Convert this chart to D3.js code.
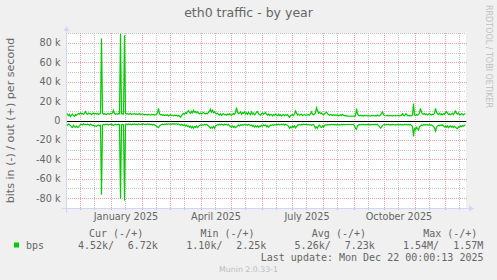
<!DOCTYPE html>
<html>
<head>
<meta charset="utf-8">
<script src="https://cdn.jsdelivr.net/npm/d3@7"></script>
<style>
  body { margin: 0; background: #f0f0f0; }
  svg { display: block; }
  text { font-family: "DejaVu Sans", sans-serif; fill: #666666; }
  text.mono { font-family: "DejaVu Sans Mono", monospace; }
</style>
</head>
<body>
<div id="chart"></div>
<script>
// 400 days, one value per day, ending at the last update
const startDay = new Date(Date.UTC(2024, 10, 17));
const endDay = new Date(Date.UTC(2025, 11, 22));

// out (+) daily average, kbit/s
const outValues = [
  5.7, 6.8, 4.9, 6.2, 4.0, 5.5, 6.6, 5.1, 4.3, 6.0,
  5.4, 6.3, 7.2, 6.5, 7.8, 6.9, 7.1, 6.2, 7.5, 9.0,
  7.0, 6.4, 7.6, 6.8, 7.3, 6.1, 7.0, 7.7, 6.6, 7.2,
  6.5, 7.4, 6.3, 6.9, 7.1, 84.5, 7.8, 6.4, 7.0, 6.6,
  6.2, 7.0, 6.8, 6.5, 7.3, 6.9, 8.0, 10.6, 7.1, 6.4,
  6.9, 6.5, 7.2, 6.8, 89.5, 6.7, 7.0, 6.6, 88.0, 7.2,
  6.6, 7.1, 6.3, 6.8, 7.4, 6.2, 6.9, 6.5, 7.0, 6.4,
  6.8, 6.1, 6.6, 7.2, 6.0, 6.5, 6.9, 6.3, 5.8, 6.4,
  6.1, 5.7, 6.5, 6.0, 5.5, 6.2, 5.9, 6.3, 5.6, 6.0,
  6.4, 8.2, 12.6, 7.0, 5.8, 6.1, 5.4, 5.9, 5.2, 5.7,
  5.3, 5.9, 4.8, 5.5, 6.0, 5.1, 5.6, 4.9, 5.4, 5.0,
  5.5, 4.7, 5.2, 4.4, 3.3, 5.0, 6.2, 7.4, 6.5, 8.1,
  7.2, 9.0, 10.2, 8.3, 7.5, 9.4, 8.0, 10.5, 8.6, 9.2,
  7.8, 8.8, 7.4, 7.0, 7.8, 6.7, 7.5, 8.4, 7.2, 6.9,
  7.6, 7.0, 8.3, 9.5, 11.5, 8.6, 10.4, 8.0, 9.1, 7.4,
  6.8, 7.4, 6.2, 5.6, 6.9, 5.3, 6.4, 7.0, 5.8, 6.3,
  5.5, 6.6, 5.9, 7.1, 6.0, 5.2, 6.5, 7.3, 6.4, 8.0,
  13.4, 8.8, 6.9, 7.8, 9.0, 6.6, 8.2, 7.4, 9.1, 6.8,
  7.9, 6.4, 8.5, 7.2, 6.0, 8.8, 6.7, 7.6, 5.9, 6.8,
  8.6, 9.2, 7.0, 6.2, 5.5, 6.9, 7.8, 6.3, 7.4, 8.3,
  6.5, 5.6, 6.8, 5.2, 6.3, 5.9, 4.9, 6.1, 5.4, 6.6,
  5.8, 5.0, 6.4, 5.3, 6.0, 4.8, 5.7, 6.3, 5.1, 5.9,
  5.4, 6.2, 4.7, 3.3, 5.0, 5.6, 6.1, 5.2, 7.0, 9.8,
  7.6, 5.8, 6.4, 5.3, 5.9, 6.5, 5.1, 5.7, 6.2, 5.5,
  5.2, 5.8, 6.0, 5.4, 7.2, 9.0, 6.4, 5.9, 6.6, 7.8,
  13.2, 10.4, 7.6, 8.5, 7.0, 7.8, 6.4, 5.9, 6.8, 7.9,
  8.8, 7.2, 6.1, 5.5, 6.3, 5.8, 5.2, 6.0, 5.4, 5.7,
  5.1, 5.6, 4.8, 5.3, 5.9, 5.0, 6.4, 5.4, 4.9, 5.2,
  4.6, 4.5, 4.5, 4.4, 4.6, 4.5, 4.4, 4.5, 4.6, 4.7,
  12.2, 6.8, 5.2, 4.9, 5.4, 4.8, 5.1, 4.6, 5.3, 4.9,
  5.0, 4.7, 5.2, 4.8, 4.6, 5.3, 4.9, 5.1, 4.7, 5.0,
  4.8, 5.4, 5.0, 4.7, 5.6, 7.3, 8.9, 6.0, 5.1, 4.9,
  5.0, 5.2, 4.8, 5.0, 4.9, 5.1, 4.8, 5.0, 4.9, 5.2,
  4.9, 5.0, 5.3, 4.8, 5.1, 5.5, 7.0, 5.2, 4.9, 6.8,
  6.6, 5.0, 4.8, 5.3, 5.0, 4.7, 5.8, 17.6, 5.6, 5.1,
  6.2, 5.4, 6.0, 8.0, 12.4, 8.5, 7.0, 6.4, 7.2, 6.0,
  6.8, 5.9, 6.5, 7.3, 6.1, 5.7, 6.6, 6.2, 7.4, 12.6,
  8.6, 7.0, 6.3, 7.5, 6.1, 6.9, 5.8, 7.2, 6.4, 8.1,
  9.2, 7.6, 6.3, 7.0, 5.9, 6.8, 7.4, 6.0, 8.2, 9.8,
  7.5, 6.6, 7.8, 6.2, 5.9, 7.1, 6.4, 5.8, 6.9, 6.7
];

// in (-) daily average, kbit/s (drawn below zero)
const inValues = [
  4.0, 4.8, 3.6, 4.4, 5.2, 6.8, 7.2, 5.0, 6.5, 7.0,
  5.6, 6.9, 7.1, 5.2, 4.3, 3.8, 4.6, 3.5, 4.2, 3.9,
  4.5, 3.7, 4.1, 5.0, 3.6, 4.4, 5.3, 4.8, 6.0, 5.5,
  6.2, 5.1, 4.6, 5.4, 4.9, 76.5, 4.7, 4.0, 4.5, 3.8,
  4.3, 3.9, 4.6, 4.1, 3.7, 4.4, 4.0, 5.2, 4.3, 3.9,
  4.5, 4.1, 3.8, 4.2, 80.5, 4.4, 4.0, 4.6, 82.8, 4.3,
  3.9, 4.2, 3.6, 4.1, 3.8, 4.5, 3.7, 4.0, 3.5, 4.2,
  3.8, 4.4, 3.6, 3.9, 4.3, 3.7, 4.0, 3.5, 4.1, 3.8,
  4.2, 3.6, 4.0, 3.7, 4.3, 3.9, 4.6, 4.0, 4.4, 5.2,
  5.9, 6.8, 7.4, 5.5, 4.6, 4.1, 3.8, 4.3, 3.7, 4.0,
  3.6, 3.9, 3.4, 3.8, 3.5, 3.9, 3.3, 3.7, 3.5, 3.8,
  3.4, 3.9, 3.6, 4.2, 4.8, 3.9, 4.5, 5.1, 4.4, 5.6,
  4.8, 6.2, 5.5, 7.0, 5.9, 7.6, 6.1, 7.8, 6.4, 7.2,
  5.8, 7.3, 6.0, 5.2, 4.6, 5.0, 4.3, 4.8, 4.1, 4.5,
  4.0, 4.7, 5.6, 6.4, 8.0, 6.9, 7.8, 6.2, 8.1, 5.5,
  4.8, 4.2, 4.6, 3.9, 4.4, 3.7, 4.2, 4.8, 3.9, 4.5,
  4.1, 4.7, 4.0, 5.4, 6.2, 7.1, 5.6, 7.0, 6.0, 7.3,
  6.6, 5.3, 4.7, 5.5, 4.4, 5.0, 4.3, 4.8, 4.1, 4.6,
  4.2, 4.9, 4.0, 4.5, 5.3, 4.7, 6.0, 5.1, 6.8, 5.6,
  6.5, 5.4, 6.9, 5.7, 6.2, 5.0, 5.8, 4.6, 5.3, 4.5,
  6.4, 5.2, 7.0, 5.8, 4.7, 5.1, 4.4, 4.9, 4.2, 4.6,
  4.0, 4.5, 3.8, 4.4, 4.1, 3.7, 4.3, 3.9, 4.6, 4.0,
  4.4, 4.8, 6.0, 8.0, 6.6, 7.6, 5.8, 6.9, 5.3, 7.5,
  6.2, 5.0, 4.5, 4.1, 4.6, 4.0, 4.4, 3.8, 4.3, 4.0,
  3.9, 4.4, 4.0, 4.6, 4.2, 5.0, 4.4, 4.1, 5.6, 7.8,
  6.6, 8.0, 5.4, 4.8, 6.5, 7.2, 5.5, 6.8, 5.0, 4.4,
  4.8, 4.2, 4.5, 4.0, 4.4, 3.9, 4.3, 4.0, 4.5, 4.1,
  4.4, 4.0, 4.6, 4.2, 4.5, 4.1, 4.4, 4.0, 4.3, 4.2,
  4.1, 4.0, 4.2, 4.1, 4.0, 4.2, 4.1, 4.0, 5.5, 8.2,
  9.0, 5.6, 4.5, 4.2, 4.6, 4.1, 4.3, 4.0, 4.4, 4.1,
  4.3, 4.0, 4.2, 4.1, 4.4, 4.0, 4.3, 4.1, 4.2, 4.0,
  4.3, 4.1, 5.2, 6.4, 7.9, 6.8, 5.0, 4.4, 4.2, 4.5,
  4.1, 4.3, 4.0, 4.4, 4.2, 4.5, 4.1, 4.3, 4.6, 4.2,
  4.4, 4.1, 4.5, 4.3, 4.0, 4.4, 4.2, 4.6, 4.1, 4.3,
  4.0, 4.4, 4.2, 4.5, 4.1, 5.0, 6.2, 16.4, 8.2, 9.6,
  7.0, 8.4, 9.8, 6.5, 5.4, 4.6, 5.2, 4.4, 4.8, 4.3,
  4.6, 4.2, 4.7, 4.4, 5.0, 4.5, 5.3, 6.4, 7.8, 10.8,
  7.2, 5.6, 4.8, 5.4, 4.6, 5.2, 4.5, 5.8, 6.6, 5.5,
  6.9, 5.6, 7.4, 6.2, 5.4, 6.8, 5.9, 7.2, 6.0, 6.8,
  7.9, 8.2, 6.4, 7.0, 5.6, 6.3, 5.1, 5.8, 4.9, 4.5
];

const majorTicks = [-80, -60, -40, -20, 0, 20, 40, 60, 80];
const minorTicks = [-90, -70, -50, -30, -10, 10, 30, 50, 70, 90];
const labelMonths = [0, 3, 6, 9]; // January, April, July, October 2025

const legendHeaders = ["Cur (-/+)", "Min (-/+)", "Avg (-/+)", "Max (-/+)"];
const legendIn = ["4.52k/", "1.10k/", "5.26k/", "1.54M/"];
const legendOut = ["6.72k", "2.25k", "7.23k", "1.57M"];
const lastUpdate = "Last update: Mon Dec 22 00:00:13 2025";

class TrafficChart {
  constructor() {
    this.config = {
      parentElement: "#chart",
      width: 497,
      height: 280,
      plot: { left: 66, top: 33, width: 400, height: 175 },
      green: "#00cc00",
      axis: "#cfd6f8",
      grid: "#c4c4c4",
      mgrid: "#f0a0a0",
    };
    this.initVis();
  }

  initVis() {
    const vis = this;
    const p = vis.config.plot;

    vis.svg = d3
      .select(vis.config.parentElement)
      .append("svg")
      .attr("width", vis.config.width)
      .attr("height", vis.config.height);

    vis.svg.append("rect")
      .attr("width", vis.config.width)
      .attr("height", vis.config.height)
      .attr("fill", "#f0f0f0");

    vis.svg.append("rect")
      .attr("x", p.left)
      .attr("y", p.top)
      .attr("width", p.width)
      .attr("height", p.height)
      .attr("fill", "#ffffff");

    vis.xScale = d3.scaleUtc().domain([startDay, endDay]).range([p.left, p.left + p.width]);
    vis.yScale = d3.scaleLinear().domain([-90.3, 90.3]).range([p.top + p.height, p.top]);

    vis.drawGrid();
    vis.updateVis();
    vis.drawAxes();
    vis.drawTexts();
  }

  drawGrid() {
    const vis = this;
    const p = vis.config.plot;
    const g = vis.svg.append("g").attr("shape-rendering", "crispEdges");
    const ypix = (v) => Math.round(vis.yScale(v)) + 0.5;
    const xpix = (d) => Math.round(vis.xScale(d)) + 0.5;

    // minor horizontal
    g.selectAll(".hminor").data(minorTicks).join("line")
      .attr("x1", p.left).attr("x2", p.left + p.width)
      .attr("y1", ypix).attr("y2", ypix)
      .attr("stroke", vis.config.grid).attr("stroke-dasharray", "1,1");

    // mid-month vertical lines
    const mids = d3.utcMonth.range(d3.utcMonth.floor(startDay), endDay)
      .map((m) => d3.utcDay.offset(m, 14))
      .filter((d) => d > startDay && d < endDay);
    g.selectAll(".vminor").data(mids).join("line")
      .attr("x1", xpix).attr("x2", xpix)
      .attr("y1", p.top).attr("y2", p.top + p.height + 2)
      .attr("stroke", vis.config.grid).attr("stroke-dasharray", "1,1");

    // major horizontal
    g.selectAll(".hmajor").data(majorTicks).join("line")
      .attr("x1", p.left).attr("x2", p.left + p.width + 2)
      .attr("y1", ypix).attr("y2", ypix)
      .attr("stroke", vis.config.mgrid).attr("stroke-dasharray", "1,1");

    // month start vertical lines
    const months = d3.utcMonth.range(d3.utcMonth.ceil(startDay), endDay);
    g.selectAll(".vmajor").data(months).join("line")
      .attr("x1", xpix).attr("x2", xpix)
      .attr("y1", p.top).attr("y2", p.top + p.height + 3)
      .attr("stroke", vis.config.mgrid).attr("stroke-dasharray", "1,1");
  }

  updateVis() {
    const vis = this;
    const dayX = (d, i) => vis.xScale(d3.utcDay.offset(startDay, i)) + 0.5;

    const outLine = d3.line().x(dayX).y((d) => vis.yScale(d));
    const inLine = d3.line().x(dayX).y((d) => vis.yScale(-d));

    vis.svg.append("path")
      .datum(outValues)
      .attr("d", outLine)
      .attr("fill", "none")
      .attr("stroke", vis.config.green)
      .attr("stroke-width", 1.2);

    vis.svg.append("path")
      .datum(inValues)
      .attr("d", inLine)
      .attr("fill", "none")
      .attr("stroke", vis.config.green)
      .attr("stroke-width", 1.2);

    // zero line
    const y0 = Math.round(vis.yScale(0)) + 0.5;
    vis.svg.append("line")
      .attr("x1", vis.config.plot.left).attr("x2", vis.config.plot.left + vis.config.plot.width)
      .attr("y1", y0).attr("y2", y0)
      .attr("stroke", "#000000")
      .attr("shape-rendering", "crispEdges");
  }

  drawAxes() {
    const vis = this;
    const p = vis.config.plot;
    const ax = p.left + 0.5;
    const ay = p.top + p.height + 0.5;
    const g = vis.svg.append("g");

    g.append("line").attr("x1", ax).attr("x2", ax)
      .attr("y1", ay + 4).attr("y2", p.top - 4)
      .attr("stroke", vis.config.axis).attr("shape-rendering", "crispEdges");
    g.append("line").attr("x1", p.left - 4).attr("x2", p.left + p.width + 4)
      .attr("y1", ay).attr("y2", ay)
      .attr("stroke", vis.config.axis).attr("shape-rendering", "crispEdges");

    g.append("path")
      .attr("d", `M${ax - 3},${p.top - 2}L${ax + 3},${p.top - 2}L${ax},${p.top - 7}Z`)
      .attr("fill", vis.config.axis);
    g.append("path")
      .attr("d", `M${p.left + p.width + 3},${ay - 3}L${p.left + p.width + 3},${ay + 3}L${p.left + p.width + 8},${ay}Z`)
      .attr("fill", vis.config.axis);
  }

  drawTexts() {
    const vis = this;
    const p = vis.config.plot;

    vis.svg.append("text")
      .attr("x", 248.5).attr("y", 17)
      .attr("text-anchor", "middle")
      .style("font-size", "12.5px")
      .text("eth0 traffic - by year");

    vis.svg.append("text")
      .attr("transform", `translate(14, ${p.top + p.height / 2}) rotate(-90)`)
      .attr("text-anchor", "middle")
      .style("font-size", "11.1px")
      .text("bits in (-) / out (+) per second");

    vis.svg.append("text")
      .attr("transform", "translate(485.5, 56.5) rotate(90)")
      .attr("text-anchor", "middle")
      .style("font-size", "8px")
      .style("fill", "#c0c0c0")
      .text("RRDTOOL / TOBI OETIKER");

    // y tick labels
    vis.svg.selectAll(".ylab").data(majorTicks).join("text")
      .attr("x", p.left - 5.5)
      .attr("y", (d) => vis.yScale(d) + 3.5)
      .attr("text-anchor", "end")
      .style("font-size", "9.7px")
      .text((d) => (d === 0 ? "0" : `${d} k`));

    // quarter labels centred mid-month
    const fmt = d3.utcFormat("%B %Y");
    const quarters = labelMonths.map((m) => new Date(Date.UTC(2025, m, 1)));
    vis.svg.selectAll(".xlab").data(quarters).join("text")
      .attr("x", (d) => vis.xScale(d3.utcDay.offset(d, 15)))
      .attr("y", 220)
      .attr("text-anchor", "middle")
      .style("font-size", "9.7px")
      .text(fmt);

    // legend
    const lg = vis.svg.append("g").style("font-size", "10px");
    lg.selectAll(".lh").data(legendHeaders).join("text")
      .attr("class", "mono")
      .attr("x", (d, i) => 89 + i * 111.4)
      .attr("y", 237)
      .text((d) => d);

    lg.append("rect")
      .attr("x", 14).attr("y", 242.5)
      .attr("width", 5).attr("height", 5)
      .attr("fill", vis.config.green);
    lg.append("text").attr("class", "mono")
      .attr("x", 26).attr("y", 249)
      .text("bps");

    lg.selectAll(".li").data(legendIn).join("text")
      .attr("class", "mono")
      .attr("x", (d, i) => 78 + i * 108.3)
      .attr("y", 249)
      .text((d) => d);
    lg.selectAll(".lo").data(legendOut).join("text")
      .attr("class", "mono")
      .attr("x", (d, i) => 157.8 + i * 108.5)
      .attr("y", 249)
      .attr("text-anchor", "end")
      .text((d) => d);

    lg.append("text").attr("class", "mono")
      .attr("x", 483.5).attr("y", 261)
      .attr("text-anchor", "end")
      .text(lastUpdate);

    vis.svg.append("text")
      .attr("x", 248.5).attr("y", 271.5)
      .attr("text-anchor", "middle")
      .style("font-size", "7.8px")
      .style("fill", "#bdbdbd")
      .text("Munin 2.0.33-1");
  }
}

const chart = new TrafficChart();
</script>
</body>
</html>
